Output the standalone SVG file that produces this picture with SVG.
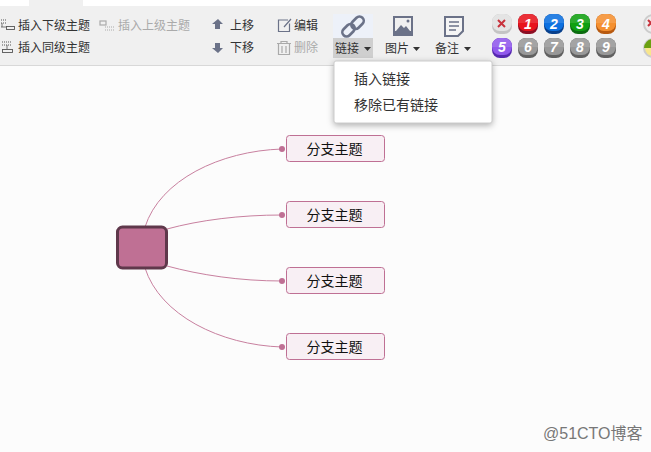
<svg xmlns="http://www.w3.org/2000/svg" width="651" height="452" viewBox="0 0 651 452">
<style>
text{font-family:"Liberation Sans","Noto Sans CJK SC",sans-serif;font-size:12px;fill:#333}
.g{fill:#aaa}
.ic{fill:none;stroke:#6b7288;stroke-width:1.2}
.icg{fill:none;stroke:#aaa;stroke-width:1.2}
.dot{fill:none;stroke:#555;stroke-width:1;stroke-dasharray:1 1}
.n{font-family:"Liberation Sans",sans-serif;font-weight:bold;font-style:italic;font-size:14px;fill:#fff;text-anchor:middle}
.sub rect{fill:#f8eff4;stroke:#bf7094;stroke-width:1}
.sub text{font-size:14px;fill:#111;text-anchor:middle}
.c{fill:none;stroke:#c8809f;stroke-width:1}
.d{fill:#bf7094}
.hi{fill:#fff;opacity:.12}
</style>
<rect width="651" height="452" fill="#fcfcfc"/>
<rect width="651" height="6" fill="#fff"/>
<rect x="29" width="54" height="6" fill="#f0f0f0"/>
<rect y="6" width="651" height="59" fill="#f0f0f0"/>
<rect y="65" width="651" height="1" fill="#d8d8d8"/>
<g id="toolbar-topic">
<path class="dot" d="M1 20H7M1 23H7"/><rect x="6.500" y="26.500" width="8" height="3" fill="none" stroke="#555" stroke-width=".9"/><path d="M1 27H6M2 23V27" stroke="#555" stroke-width=".8"/>
<text x="18" y="30">插入下级主题</text>
<path class="dot" d="M2 42H12M2 45H12"/><rect x="2.500" y="49.500" width="10" height="3" fill="none" stroke="#555" stroke-width=".9"/><path d="M7 45V49" stroke="#555" stroke-width=".8"/>
<text x="18" y="52">插入同级主题</text>
<rect class="icg" x="100" y="21" width="6" height="4"/><path class="dot" d="M105 27H115M105 30H115" style="stroke:#aaa"/>
<text class="g" x="118" y="30">插入上级主题</text>
</g>
<g id="toolbar-move">
<path d="M218 19l5 5h-3v5h-5v-5h-3z" fill="#6b7288"/>
<text x="230" y="30">上移</text>
<path d="M218 53l5-5h-3v-5h-5v5h-3z" fill="#6b7288"/>
<text x="230" y="52">下移</text>
</g>
<g id="toolbar-edit">
<path class="ic" d="M288 20h-9.500v11.500h11v-8M284 27l7-8"/>
<text x="294" y="30">编辑</text>
<path class="icg" d="M277 43.500h14M281 43.500v-2h6v2M278.500 44v10.500h11V44M282 46v7M286 46v7"/>
<text class="g" x="294" y="52">删除</text>
</g>
<g id="toolbar-link">
<rect x="333" y="14" width="40" height="24" fill="#edf1f9"/>
<rect x="333" y="38" width="40" height="20" fill="#cfcfcf"/>
<rect x="341.500" y="26" width="14" height="8.500" rx="4.200" transform="rotate(-45 348.500 30.200)" fill="none" stroke="#6b7288" stroke-width="2.600"/>
<rect x="350.500" y="18.500" width="14" height="8.500" rx="4.200" transform="rotate(-45 357.500 22.700)" fill="none" stroke="#6b7288" stroke-width="2.600"/>
<text x="335" y="53">链接</text><path d="M364 47h7l-3.500 4z" fill="#333"/>
</g>
<g id="toolbar-image">
<rect x="393" y="16" width="20" height="20" fill="#6b7288"/>
<rect x="395" y="18" width="16" height="13" fill="#f0f0f0"/>
<path d="M396 31l5-6 3 3 2-2 4 5z" fill="#6b7288"/><circle cx="408" cy="21" r="1.500" fill="#6b7288"/>
<text x="385" y="53">图片</text><path d="M413 47h7l-3.500 4z" fill="#333"/>
</g>
<g id="toolbar-note">
<path d="M445 17h18v14l-5 5h-13z" fill="#f5f5f5" stroke="#6b7288" stroke-width="2"/>
<path d="M449 22h10M449 26h10M449 30h7" stroke="#6b7288" stroke-width="1.500"/>
<text x="435" y="53">备注</text><path d="M464 47h7l-3.500 4z" fill="#333"/>
</g>
<g id="priority">
<rect x="492" y="14" width="20" height="20" rx="8" fill="#c4c4c4"/><rect x="492" y="14" width="20" height="17" rx="8" fill="#e4e4e4"/><path d="M498 20l7 7M505 20l-7 7" stroke="#c8323c" stroke-width="2"/>
<rect x="518" y="14" width="20" height="20" rx="8" fill="#8c0f24"/><rect x="518" y="14" width="20" height="17" rx="8" fill="#e8141c"/><path class="hi" d="M518 23v-1a8 8 0 0 1 8-8h4a8 8 0 0 1 8 8v1z"/><text class="n" x="528" y="29">1</text>
<rect x="544" y="14" width="20" height="20" rx="8" fill="#08408c"/><rect x="544" y="14" width="20" height="17" rx="8" fill="#0c70e0"/><path class="hi" d="M544 23v-1a8 8 0 0 1 8-8h4a8 8 0 0 1 8 8v1z"/><text class="n" x="554" y="29">2</text>
<rect x="570" y="14" width="20" height="20" rx="8" fill="#0c6c10"/><rect x="570" y="14" width="20" height="17" rx="8" fill="#10a010"/><path class="hi" d="M570 23v-1a8 8 0 0 1 8-8h4a8 8 0 0 1 8 8v1z"/><text class="n" x="580" y="29">3</text>
<rect x="596" y="14" width="20" height="20" rx="8" fill="#b85a10"/><rect x="596" y="14" width="20" height="17" rx="8" fill="#f59030"/><path class="hi" d="M596 23v-1a8 8 0 0 1 8-8h4a8 8 0 0 1 8 8v1z"/><text class="n" x="606" y="29">4</text>
<rect x="492" y="38" width="20" height="20" rx="8" fill="#5528b0"/><rect x="492" y="38" width="20" height="17" rx="8" fill="#9058ec"/><path class="hi" d="M492 47v-1a8 8 0 0 1 8-8h4a8 8 0 0 1 8 8v1z"/><text class="n" x="502" y="52">5</text>
<rect x="518" y="38" width="20" height="20" rx="8" fill="#606060"/><rect x="518" y="38" width="20" height="17" rx="8" fill="#989898"/><path class="hi" d="M518 47v-1a8 8 0 0 1 8-8h4a8 8 0 0 1 8 8v1z"/><text class="n" x="528" y="52">6</text>
<rect x="544" y="38" width="20" height="20" rx="8" fill="#606060"/><rect x="544" y="38" width="20" height="17" rx="8" fill="#989898"/><path class="hi" d="M544 47v-1a8 8 0 0 1 8-8h4a8 8 0 0 1 8 8v1z"/><text class="n" x="554" y="52">7</text>
<rect x="570" y="38" width="20" height="20" rx="8" fill="#606060"/><rect x="570" y="38" width="20" height="17" rx="8" fill="#989898"/><path class="hi" d="M570 47v-1a8 8 0 0 1 8-8h4a8 8 0 0 1 8 8v1z"/><text class="n" x="580" y="52">8</text>
<rect x="596" y="38" width="20" height="20" rx="8" fill="#606060"/><rect x="596" y="38" width="20" height="17" rx="8" fill="#989898"/><path class="hi" d="M596 47v-1a8 8 0 0 1 8-8h4a8 8 0 0 1 8 8v1z"/><text class="n" x="606" y="52">9</text>
<circle cx="653" cy="24" r="9" fill="#eee" stroke="#ccc" stroke-width="2"/><path d="M648 20l6 6M654 20l-6 6" stroke="#c8323c" stroke-width="2"/>
<circle cx="653" cy="48" r="9" fill="#f8e68c" stroke="#ccc" stroke-width="2"/><path d="M644 48a9 9 0 0 1 9-9v9z" fill="#6aa010"/>
</g>
<g id="link-menu">
<rect x="334" y="61" width="158" height="62" rx="2" fill="#fff" stroke="#ccc" stroke-width="1" style="filter:drop-shadow(0 2px 3px rgba(0,0,0,.3))"/>
<text x="354" y="84" style="font-size:14px">插入链接</text>
<text x="354" y="110" style="font-size:14px">移除已有链接</text>
</g>
<g id="connectors">
<path class="c" d="M145 227C160 180 220 151 282 149"/>
<path class="c" d="M167 229C200 220 240 215 282 215"/>
<path class="c" d="M167 266C200 275 240 281 282 281"/>
<path class="c" d="M145 268C160 315 220 345 282 347"/>
<circle class="d" cx="282" cy="149" r="3"/><circle class="d" cx="282" cy="215" r="3"/><circle class="d" cx="282" cy="281" r="3"/><circle class="d" cx="282" cy="347" r="3"/>
</g>
<g id="root"><rect x="117.500" y="227" width="49" height="41" rx="5" fill="#bf7094" stroke="#5f384b" stroke-width="3"/></g>
<g id="sub1" class="sub"><rect x="286.500" y="135.500" width="98" height="26" rx="3"/><text x="334.500" y="154">分支主题</text></g>
<g id="sub2" class="sub"><rect x="286.500" y="201.500" width="98" height="26" rx="3"/><text x="334.500" y="220">分支主题</text></g>
<g id="sub3" class="sub"><rect x="286.500" y="267.500" width="98" height="26" rx="3"/><text x="334.500" y="286">分支主题</text></g>
<g id="sub4" class="sub"><rect x="286.500" y="333.500" width="98" height="26" rx="3"/><text x="334.500" y="352">分支主题</text></g>
<text x="543" y="439" style="font-size:16px;fill:#777">@51CTO博客</text>
</svg>
